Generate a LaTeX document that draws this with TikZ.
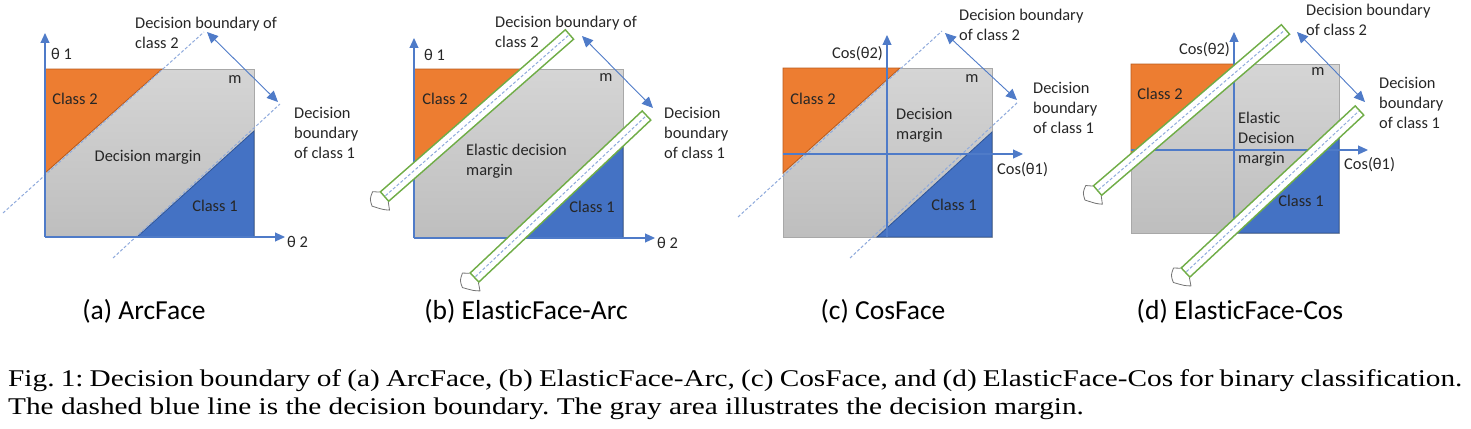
\documentclass[tikz,border=0pt]{standalone}
\usepackage{fontspec}
\usepackage{graphicx}
\setmainfont{Liberation Serif}
\newfontfamily\figfont{Carlito}[Ligatures=NoCommon]
\usetikzlibrary{calc,arrows.meta}
\frenchspacing
\definecolor{classorange}{HTML}{ED7D31}
\definecolor{classorangeD}{HTML}{B85A1C}
\definecolor{classblue}{HTML}{4472C4}
\definecolor{classblueD}{HTML}{2F5597}
\definecolor{axisblue}{HTML}{4F7BC8}
\definecolor{boundblue}{HTML}{8FAADC}
\definecolor{marginTop}{HTML}{D5D5D5}
\definecolor{marginBot}{HTML}{BEBEBE}
\definecolor{marginEdge}{HTML}{A8A8A8}
\definecolor{tubegreen}{HTML}{70AD47}
\def\tube(#1)(#2){
  \draw[tubeline] (#1) -- (#2);
  \draw[tubeinner] (#1) -- (#2);
  \draw[boundary] ($(#1)!2pt!(#2)$) -- ($(#2)!2pt!(#1)$);
  \draw[tailline] let \p1=($(#2)-(#1)$), \n1={atan2(\y1,\x1)} in
    ($(#1)+(\n1+90:6.5pt)$) -- ($(#1)+(\n1:-5pt)+(\n1+90:11.5pt)$)
    .. controls ($(#1)+(\n1:-12pt)+(\n1+90:8pt)$) .. ($(#1)+(\n1:-15pt)+(\n1+90:1pt)$)
    .. controls ($(#1)+(\n1:-9pt)+(\n1+90:-9pt)$) .. ($(#1)+(\n1:-4.5pt)+(\n1+90:-13.5pt)$)
    -- ($(#1)+(\n1-90:6.5pt)$);
}
\tikzset{
  marginbox/.style={top color=marginTop, bottom color=marginBot, draw=marginEdge, line width=0.8pt},
  classtwo/.style={fill=classorange, draw=classorangeD, line width=0.8pt},
  classone/.style={fill=classblue, draw=classblueD, line width=0.8pt},
  boundary/.style={draw=boundblue, line width=1pt, dash pattern=on 3pt off 2pt},
  axisline/.style={draw=axisblue, line width=1.1pt, -{Triangle[length=10pt,width=9pt]}},
  marrow/.style={draw=axisblue, line width=0.9pt, {Triangle[length=11pt,width=10pt]}-{Triangle[length=11pt,width=10pt]}},
  tubeline/.style={draw=tubegreen, line width=14pt},
  tubeinner/.style={draw=white, line width=10.8pt, shorten <=1.6pt, shorten >=1.6pt},
  tailline/.style={draw=black!55, line width=0.8pt, line join=round},
  lbl/.style={font=\figfont\fontsize{16.4}{20}\selectfont, text=black!85, inner sep=0pt},
  ttl/.style={font=\figfont\fontsize{27.5}{32}\selectfont, text=black, inner sep=0pt},
  capt/.style={font=\fontsize{24}{28}\selectfont, text=black, inner sep=0pt}
}

\begin{document}
\begin{tikzpicture}[x=1pt, y=-1pt]
  \useasboundingbox (0,0) rectangle (1471,428);

  %%%%% (a) ArcFace %%%%%
  \draw[marginbox] (45,69) rectangle (254,237);
  \draw[classtwo] (45,69) -- (162,69) -- (45,173) -- cycle;
  \draw[classone] (254,131) -- (254,237) -- (137,237) -- cycle;
  \draw[boundary] (3,213) -- (204,32);
  \draw[boundary] (113,258) -- (280,104);
  \coordinate (a-o) at (45,237);
  \coordinate (a-y) at (45,33);
  \coordinate (a-x) at (285,237);
  \draw[axisline] (a-o) -- (a-y);
  \draw[axisline] (a-o) -- (a-x);
  \coordinate (a-m1) at (207,32);
  \coordinate (a-m2) at (278,102);
  \draw[marrow] (a-m1) -- (a-m2);
  \node[lbl] (a-c2) at (75,99) {Class 2};
  \node[lbl] (a-cm) at (148,157) {Decision margin};
  \node[lbl] (a-c1) at (215,206) {Class 1};
  \node[lbl] (a-m) at (235,80) {m};
  \node[lbl, anchor=west] (a-t1) at (51,54) {θ 1};
  \node[lbl, anchor=west] (a-t2) at (287,242) {θ 2};
  \node[lbl, anchor=north west, align=left] (a-b2) at (135,17) {Decision boundary of\\class 2};
  \node[lbl, anchor=north west, align=left] (a-b1) at (294,107) {Decision\\boundary\\of class 1};
  \node[ttl] (a-ttl) at (144,311) {(a) ArcFace};

  %%%%% (b) ElasticFace-Arc %%%%%
  \draw[marginbox] (414,69) rectangle (623,238);
  \draw[classtwo] (414,69) -- (530,69) -- (414,170.7) -- cycle;
  \draw[classone] (623,137.6) -- (623,238) -- (516.5,238) -- cycle;
  \coordinate (b-o) at (414,238);
  \coordinate (b-y) at (414,38);
  \coordinate (b-x) at (655,238);
  \draw[axisline] (b-o) -- (b-y);
  \draw[axisline] (b-o) -- (b-x);
  \tube(384,197)(570,34)
  \tube(474,278)(647,115)
  \coordinate (b-m1) at (582,36);
  \coordinate (b-m2) at (653,108);
  \draw[marrow] (b-m1) -- (b-m2);
  \node[lbl] (b-c2) at (445,99) {Class 2};
  \node[lbl, anchor=north west, align=left] (b-cm) at (466,144) {Elastic decision\\margin};
  \node[lbl] (b-c1) at (592,207) {Class 1};
  \node[lbl] (b-m) at (606,78) {m};
  \node[lbl, anchor=west] (b-t1) at (424,55) {θ 1};
  \node[lbl, anchor=west] (b-t2) at (657,243) {θ 2};
  \node[lbl, anchor=north west, align=left] (b-b2) at (495,16) {Decision boundary of\\class 2};
  \node[lbl, anchor=north west, align=left] (b-b1) at (664,107) {Decision\\boundary\\of class 1};
  \node[ttl] (b-ttl) at (526,311) {(b) ElasticFace-Arc};

  %%%%% (c) CosFace %%%%%
  \draw[marginbox] (783,68) rectangle (992,237);
  \draw[classtwo] (783,68) -- (900,68) -- (783,173) -- cycle;
  \draw[classone] (992,132) -- (992,237) -- (877,237) -- cycle;
  \draw[boundary] (738,217) -- (942,31);
  \draw[boundary] (850,258) -- (1018,102);
  \coordinate (c-yo) at (887,237);
  \coordinate (c-y) at (887,35);
  \coordinate (c-xo) at (783,154);
  \coordinate (c-x) at (1023,154);
  \draw[axisline] (c-yo) -- (c-y);
  \draw[axisline] (c-xo) -- (c-x);
  \coordinate (c-m1) at (945,33);
  \coordinate (c-m2) at (1017,100);
  \draw[marrow] (c-m1) -- (c-m2);
  \node[lbl] (c-c2) at (813,99) {Class 2};
  \node[lbl, anchor=north west, align=left] (c-cm) at (896,108) {Decision\\margin};
  \node[lbl] (c-c1) at (954,205) {Class 1};
  \node[lbl] (c-m) at (972,79) {m};
  \node[lbl, anchor=east] (c-t2) at (883,54) {Cos(θ2)};
  \node[lbl, anchor=west] (c-t1) at (997,170) {Cos(θ1)};
  \node[lbl, anchor=north west, align=left] (c-b2) at (959,9) {Decision boundary\\of class 2};
  \node[lbl, anchor=north west, align=left] (c-b1) at (1033,82) {Decision\\boundary\\of class 1};
  \node[ttl] (c-ttl) at (883,311) {(c) CosFace};

  %%%%% (d) ElasticFace-Cos %%%%%
  \draw[marginbox] (1131,64) rectangle (1339,233);
  \draw[classtwo] (1131,64) -- (1245,64) -- (1131,161.9) -- cycle;
  \draw[classone] (1339,129.6) -- (1339,233) -- (1228,233) -- cycle;
  \coordinate (d-yo) at (1234,233);
  \coordinate (d-y) at (1234,32);
  \coordinate (d-xo) at (1131,150);
  \coordinate (d-x) at (1368,150);
  \draw[axisline] (d-yo) -- (d-y);
  \draw[axisline] (d-xo) -- (d-x);
  \tube(1097,191)(1286,29)
  \tube(1185,273)(1360,110)
  \coordinate (d-m1) at (1297,32);
  \coordinate (d-m2) at (1365,102);
  \draw[marrow] (d-m1) -- (d-m2);
  \node[lbl] (d-c2) at (1160,94) {Class 2};
  \node[lbl, anchor=north west, align=left] (d-cm) at (1238,112) {Elastic\\Decision\\margin};
  \node[lbl] (d-c1) at (1301,201) {Class 1};
  \node[lbl] (d-m) at (1318,72) {m};
  \node[lbl, anchor=east] (d-t2) at (1230,50) {Cos(θ2)};
  \node[lbl, anchor=west] (d-t1) at (1344,165) {Cos(θ1)};
  \node[lbl, anchor=north west, align=left] (d-b2) at (1306,4) {Decision boundary\\of class 2};
  \node[lbl, anchor=north west, align=left] (d-b1) at (1379,77) {Decision\\boundary\\of class 1};
  \node[ttl] (d-ttl) at (1240,311) {(d) ElasticFace-Cos};

  %%%%% caption %%%%%
  \node[capt, anchor=base west] (cap1) at (8,386) {\scalebox{1.22}[1]{\makebox[1192pt][s]{Fig. 1: Decision boundary of (a) ArcFace, (b) ElasticFace-Arc, (c) CosFace, and (d) ElasticFace-Cos for binary classification.}}};
  \node[capt, anchor=base west] (cap2) at (8,414) {\scalebox{1.22}[1]{The dashed blue line is the decision boundary. The gray area illustrates the decision margin.}};
\end{tikzpicture}
\end{document}
